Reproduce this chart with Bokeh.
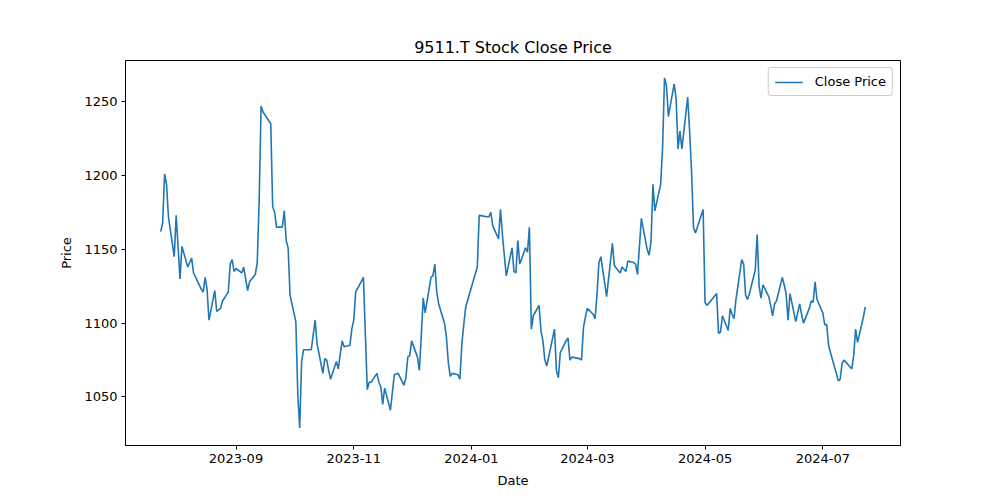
import pandas as pd
from bokeh.plotting import figure
from bokeh.models import FixedTicker, DatetimeTickFormatter, Range1d
from bokeh.embed import file_html
from bokeh.resources import INLINE

dates_2023 = [
    "2023-07-24", "2023-07-25", "2023-07-26", "2023-07-27", "2023-07-28", "2023-07-31",
    "2023-08-01", "2023-08-03", "2023-08-04", "2023-08-07", "2023-08-09", "2023-08-10",
    "2023-08-14", "2023-08-15", "2023-08-16", "2023-08-17", "2023-08-18", "2023-08-21",
    "2023-08-22", "2023-08-23", "2023-08-24", "2023-08-25", "2023-08-28", "2023-08-29",
    "2023-08-30", "2023-08-31", "2023-09-01", "2023-09-04", "2023-09-05", "2023-09-06",
    "2023-09-07", "2023-09-08", "2023-09-11", "2023-09-12", "2023-09-13", "2023-09-14",
    "2023-09-15", "2023-09-19", "2023-09-20", "2023-09-21", "2023-09-22", "2023-09-25",
    "2023-09-26", "2023-09-27", "2023-09-28", "2023-09-29", "2023-10-02", "2023-10-03",
    "2023-10-04", "2023-10-05", "2023-10-06", "2023-10-10", "2023-10-11", "2023-10-12",
    "2023-10-13", "2023-10-16", "2023-10-17", "2023-10-18", "2023-10-19", "2023-10-20",
    "2023-10-23", "2023-10-24", "2023-10-25", "2023-10-26", "2023-10-27", "2023-10-30",
    "2023-10-31", "2023-11-01", "2023-11-02", "2023-11-06", "2023-11-08", "2023-11-09",
    "2023-11-10", "2023-11-13", "2023-11-14", "2023-11-15", "2023-11-16", "2023-11-17",
    "2023-11-20", "2023-11-21", "2023-11-22", "2023-11-24", "2023-11-27", "2023-11-28",
    "2023-11-29", "2023-11-30", "2023-12-01", "2023-12-04", "2023-12-05", "2023-12-06",
    "2023-12-07", "2023-12-08", "2023-12-11", "2023-12-12", "2023-12-13", "2023-12-14",
    "2023-12-15", "2023-12-18", "2023-12-19", "2023-12-20", "2023-12-21", "2023-12-22",
    "2023-12-25", "2023-12-26", "2023-12-27", "2023-12-28", "2023-12-29",
]
close_2023 = [
    1162, 1168, 1201, 1194, 1172, 1145,
    1173, 1130, 1152, 1138, 1144, 1134,
    1123, 1121, 1131, 1123, 1102, 1122,
    1108, 1109, 1110, 1115, 1121, 1140,
    1143, 1135, 1137, 1134, 1138, 1130,
    1122, 1128, 1133, 1141, 1183, 1247,
    1243, 1235, 1179, 1175, 1165, 1165,
    1176, 1156, 1151, 1119, 1101, 1052,
    1029, 1074, 1082, 1082, 1092, 1102,
    1086, 1066, 1076, 1075, 1068, 1062,
    1074, 1069, 1079, 1088, 1084, 1085,
    1096, 1102, 1121, 1131, 1055, 1060,
    1060, 1066, 1060, 1057, 1045, 1056,
    1041, 1053, 1065, 1066, 1058, 1063,
    1077, 1078, 1088, 1077, 1068, 1092,
    1117, 1107, 1131, 1132, 1140, 1121,
    1113, 1100, 1091, 1073, 1064, 1066,
    1065, 1062, 1086, 1099, 1111,
]

dates_2024 = [
    "2024-01-04", "2024-01-05", "2024-01-09", "2024-01-10", "2024-01-11", "2024-01-12",
    "2024-01-15", "2024-01-16", "2024-01-17", "2024-01-18", "2024-01-19", "2024-01-22",
    "2024-01-23", "2024-01-24", "2024-01-25", "2024-01-26", "2024-01-29", "2024-01-30",
    "2024-01-31", "2024-02-01", "2024-02-02", "2024-02-05", "2024-02-06", "2024-02-07",
    "2024-02-08", "2024-02-09", "2024-02-13", "2024-02-14", "2024-02-15", "2024-02-16",
    "2024-02-19", "2024-02-20", "2024-02-21", "2024-02-22", "2024-02-26", "2024-02-27",
    "2024-02-28", "2024-02-29", "2024-03-01", "2024-03-04", "2024-03-05", "2024-03-06",
    "2024-03-07", "2024-03-08", "2024-03-11", "2024-03-12", "2024-03-13", "2024-03-14",
    "2024-03-15", "2024-03-18", "2024-03-19", "2024-03-21", "2024-03-22", "2024-03-25",
    "2024-03-26", "2024-03-27", "2024-03-28", "2024-03-29", "2024-04-01", "2024-04-02",
    "2024-04-03", "2024-04-04", "2024-04-05", "2024-04-08", "2024-04-09", "2024-04-10",
    "2024-04-11", "2024-04-12", "2024-04-15", "2024-04-16", "2024-04-17", "2024-04-18",
    "2024-04-19", "2024-04-22", "2024-04-23", "2024-04-24", "2024-04-25", "2024-04-26",
    "2024-04-30", "2024-05-01", "2024-05-02", "2024-05-07", "2024-05-08", "2024-05-09",
    "2024-05-10", "2024-05-13", "2024-05-14", "2024-05-15", "2024-05-16", "2024-05-17",
    "2024-05-20", "2024-05-21", "2024-05-22", "2024-05-23", "2024-05-24", "2024-05-27",
    "2024-05-28", "2024-05-29", "2024-05-30", "2024-05-31", "2024-06-03", "2024-06-04",
    "2024-06-05", "2024-06-06", "2024-06-07", "2024-06-10", "2024-06-11", "2024-06-12",
    "2024-06-13", "2024-06-14", "2024-06-17", "2024-06-18", "2024-06-19", "2024-06-20",
    "2024-06-21", "2024-06-24", "2024-06-25", "2024-06-26", "2024-06-27", "2024-06-28",
    "2024-07-01", "2024-07-02", "2024-07-03", "2024-07-04", "2024-07-05", "2024-07-08",
    "2024-07-09", "2024-07-10", "2024-07-11", "2024-07-12", "2024-07-16", "2024-07-17",
    "2024-07-18", "2024-07-19", "2024-07-22", "2024-07-23",
]
close_2024 = [
    1138, 1173, 1172, 1172, 1175, 1166,
    1157, 1177, 1160, 1146, 1132, 1151,
    1135, 1134, 1156, 1140, 1151, 1148,
    1165, 1096, 1105, 1112, 1095, 1088,
    1075, 1071, 1096, 1068, 1063, 1080,
    1088, 1090, 1075, 1077, 1076, 1075,
    1097, 1104, 1110, 1106, 1103, 1119,
    1141, 1145, 1118, 1130, 1142, 1154,
    1139, 1134, 1138, 1135, 1142, 1141,
    1140, 1133, 1152, 1171, 1150, 1146,
    1155, 1194, 1176, 1194, 1219, 1266,
    1261, 1240, 1262, 1252, 1218, 1230,
    1218, 1253, 1230, 1203, 1165, 1161,
    1177, 1114, 1112, 1120, 1093, 1094,
    1105, 1095, 1110, 1106, 1103, 1116,
    1143, 1140, 1119, 1116, 1120, 1136,
    1160, 1125, 1117, 1126, 1118, 1112,
    1105, 1113, 1115, 1131, 1126, 1120,
    1102, 1120, 1101, 1107, 1113, 1106,
    1100, 1110, 1115, 1114, 1128, 1116,
    1107, 1099, 1099, 1085, 1080, 1066,
    1061, 1062, 1073, 1075, 1069, 1078,
    1096, 1087, 1104, 1111,
]

x_tick_dates = ["2023-09-01", "2023-11-01", "2024-01-01", "2024-03-01", "2024-05-01", "2024-07-01"]
y_ticks = [1050, 1100, 1150, 1200, 1250]

dates = pd.to_datetime(dates_2023 + dates_2024)
close = close_2023 + close_2024

xpad = (dates.max() - dates.min()) * 0.05
ymin, ymax = min(close), max(close)
ypad = (ymax - ymin) * 0.05

FONT = "DejaVu Sans"

p = figure(
    frame_width=775, frame_height=385,
    x_axis_type="datetime",
    x_range=Range1d(dates.min() - xpad, dates.max() + xpad),
    y_range=Range1d(ymin - ypad, ymax + ypad),
    title="9511.T Stock Close Price",
    output_backend="svg", toolbar_location=None,
    min_border_left=125, min_border_right=84, min_border_top=60, min_border_bottom=47,
)

p.line(dates, close, line_color="#1f77b4", line_width=1.6, legend_label="Close Price")

p.title.align = "center"
p.title.text_font = FONT
p.title.text_font_size = "16px"
p.title.text_font_style = "normal"
p.title.text_color = "black"
p.title.standoff = 8

p.xgrid.visible = False
p.ygrid.visible = False
p.outline_line_color = "black"
p.outline_line_alpha = 1
p.outline_line_width = 1

tick_ms = [pd.Timestamp(d).value // 10**6 for d in x_tick_dates]
p.xaxis.ticker = FixedTicker(ticks=tick_ms)
p.xaxis.formatter = DatetimeTickFormatter(months="%Y-%m", days="%Y-%m", years="%Y-%m")
p.yaxis.ticker = FixedTicker(ticks=y_ticks)

for ax in (p.xaxis, p.yaxis):
    ax.major_label_text_font = FONT
    ax.major_label_text_font_size = "13px"
    ax.major_label_text_color = "black"
    ax.axis_label_text_font = FONT
    ax.axis_label_text_font_size = "13px"
    ax.axis_label_text_font_style = "normal"
    ax.axis_label_text_color = "black"
    ax.axis_line_color = "black"
    ax.major_tick_line_color = "black"
    ax.major_tick_out = 4
    ax.major_tick_in = 0
    ax.minor_tick_line_color = None
    ax.major_label_standoff = 4

p.xaxis.axis_label = "Date"
p.yaxis.axis_label = "Price"
p.xaxis.axis_label_standoff = 7
p.yaxis.axis_label_standoff = 7

p.legend.location = "top_right"
p.legend.label_text_font = FONT
p.legend.label_text_font_size = "13px"
p.legend.label_text_color = "black"
p.legend.border_line_color = "#cccccc"
p.legend.border_line_alpha = 1
p.legend.background_fill_alpha = 0.8
p.legend.margin = 7
p.legend.padding = 6
p.legend.glyph_width = 28
p.legend.glyph_height = 14
p.legend.label_height = 14
p.legend.label_standoff = 12
p.legend.border_radius = 3

open("out.html", "w").write(file_html(p, INLINE))
